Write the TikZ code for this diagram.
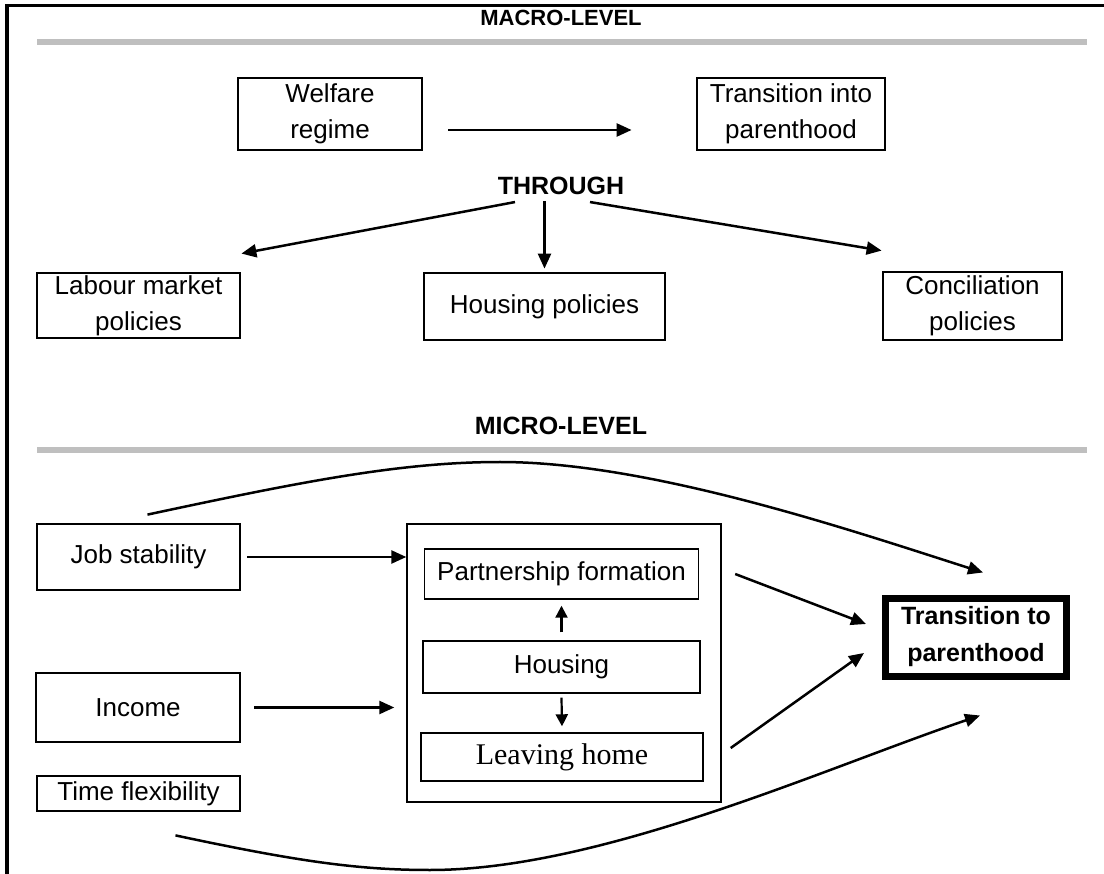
\documentclass[tikz,border=0pt]{standalone}
\usepackage{fontspec}
\setmainfont{Liberation Sans}
\newfontfamily\bookfont{Liberation Serif}
\usetikzlibrary{arrows.meta}

\tikzset{
    box/.style={draw, line width=2.8pt, align=center, inner sep=0pt,
        font=\fontsize{26}{36}\selectfont},
    inbox/.style={draw, line width=1.4pt, align=center, inner sep=0pt,
        font=\fontsize{26}{36}\selectfont},
    head/.style={inner sep=0pt, font=\bfseries\fontsize{25}{30}\selectfont},
    arr/.style={-{Triangle[length=15pt,width=13pt]}, line width=2.5pt},
    smallarr/.style={-{Triangle[length=12pt,width=12pt]}, line width=2.2pt},
    bar/.style={line width=6pt, black!25}
}

\begin{document}
\begin{tikzpicture}[x=1pt, y=-1pt]
    \useasboundingbox (0,0) rectangle (1104,874);

    % frame
    \draw[line width=3.5pt] (7,874) -- (7,5.5) -- (1104,5.5);

    % macro level
    \node[head, font=\bfseries\fontsize{22}{26}\selectfont] (macro) at (561,18) {MACRO-LEVEL};
    \draw[bar] (37,42) -- (1087,42);

    \node[box, minimum width=184pt, minimum height=72pt] (welfare) at (330,114) {Welfare\\regime};
    \node[box, minimum width=188pt, minimum height=72pt] (parent) at (791,114) {Transition into\\parenthood};
    \draw[arr] ([xshift=25pt,yshift=-16pt]welfare.east) -- ([xshift=-64pt,yshift=-16pt]parent.west);

    \node[head] (through) at (561,186) {THROUGH};

    \node[box, minimum width=203pt, minimum height=65pt] (labour) at (138.5,305.5) {Labour market\\policies};
    \node[box, minimum width=241pt, minimum height=67pt] (housepol) at (544.5,306.5) {Housing policies};
    \node[box, minimum width=179pt, minimum height=68pt] (concil) at (972.5,306) {Conciliation\\policies};

    \draw[arr] ([xshift=-46pt,yshift=-7pt]through.south) -- ([yshift=18pt]labour.north east);
    \draw[arr] (housepol.north |- through.south) ++(0,6) -- ([yshift=3pt]housepol.north);
    \draw[arr] ([xshift=29pt,yshift=-7pt]through.south) -- ([yshift=20pt]concil.north west);

    % micro level
    \node[head] (micro) at (561,426) {MICRO-LEVEL};
    \draw[bar] (37,450) -- (1087,450);

    \node[box, minimum width=203pt, minimum height=66pt] (jobstab) at (138.5,557) {Job stability};
    \node[box, minimum width=204pt, minimum height=69pt] (income) at (138,707.5) {Income};
    \node[box, minimum width=203pt, minimum height=35pt] (timeflex) at (138.5,793.5) {Time flexibility};

    \node[draw, line width=1.4pt, minimum width=314pt, minimum height=278pt] (outer) at (564,663) {};
    \node[inbox, minimum width=274pt, minimum height=50pt] (partner) at (561.5,574) {Partnership formation};
    \node[inbox, minimum width=277pt, minimum height=52pt] (housing) at (561.5,667) {Housing};
    \node[inbox, minimum width=282pt, minimum height=48pt, font=\bookfont\fontsize{30}{36}\selectfont] (leaving) at (562,757) {Leaving home};

    \draw[smallarr] ([yshift=8pt]housing.north) -- ([yshift=-6pt]partner.south);
    \draw[smallarr] ([yshift=-4pt]housing.south) -- ([yshift=6pt]leaving.north);

    \draw[arr] ([xshift=6pt]jobstab.east) -- (jobstab.east -| outer.west);
    \draw[arr] ([xshift=13pt]income.east) -- ([xshift=-12pt]income.east -| outer.west);

    \node[box, line width=7pt, minimum width=181pt, minimum height=78pt,
        font=\bfseries\fontsize{25}{37}\selectfont] (target) at (976,637) {Transition to\\parenthood};

    \draw[arr] ([xshift=36pt]partner.east) -- ([xshift=-16pt,yshift=13pt]target.west);
    \draw[arr] ([xshift=27pt,yshift=9pt]leaving.east) -- ([xshift=-18pt,yshift=-16pt]target.west);

    % long paths round the box
    \coordinate (topend) at ([xshift=7pt,yshift=22pt]target.north);
    \coordinate (lowend) at ([xshift=4pt,yshift=-36pt]target.south);
    \draw[arr] ([xshift=9pt,yshift=8pt]jobstab.north)
        .. controls (300,482) and (400,462) .. (500,462)
        .. controls (650,462) and (850,530) .. (topend);
    \draw[arr] ([xshift=37pt,yshift=-23pt]timeflex.south)
        .. controls (300,862) and (360,870) .. (430,870)
        .. controls (600,870) and (820,770) .. (lowend);
\end{tikzpicture}
\end{document}
